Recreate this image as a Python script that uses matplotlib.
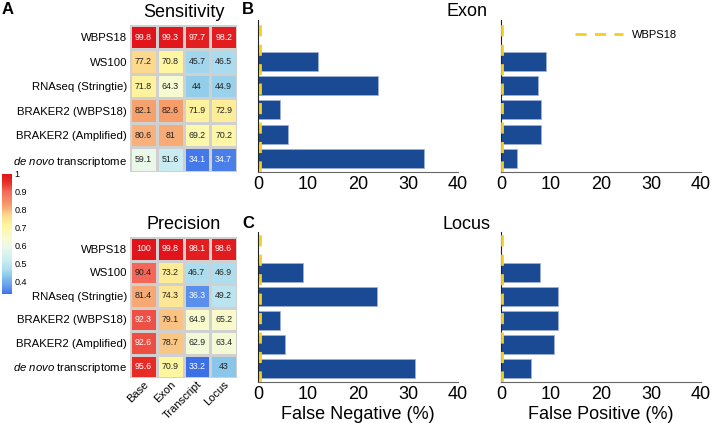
import matplotlib
matplotlib.use("Agg")
import matplotlib.pyplot as plt
import numpy as np
from matplotlib.colors import LinearSegmentedColormap, Normalize

plt.rcParams['font.family'] = ['Liberation Sans', 'DejaVu Sans']
plt.rcParams['mathtext.fontset'] = 'custom'
plt.rcParams['mathtext.rm'] = 'Liberation Sans'
plt.rcParams['mathtext.it'] = 'Liberation Sans:italic'

# ---- data ----
row_labels = ["WBPS18", "WS100", "RNAseq (Stringtie)", "BRAKER2 (WBPS18)",
              "BRAKER2 (Amplified)", r"$\it{de\ novo}$ transcriptome"]
levels = ["Base", "Exon", "Transcript", "Locus"]

sensitivity = [[99.8, 99.3, 97.7, 98.2],
               [77.2, 70.8, 45.7, 46.5],
               [71.8, 64.3, 44, 44.9],
               [82.1, 82.6, 71.9, 72.9],
               [80.6, 81, 69.2, 70.2],
               [59.1, 51.6, 34.1, 34.7]]
precision = [[100, 99.8, 98.1, 98.6],
             [90.4, 73.2, 46.7, 46.9],
             [81.4, 74.3, 36.3, 49.2],
             [92.3, 79.1, 64.9, 65.2],
             [92.6, 78.7, 62.9, 63.4],
             [95.6, 70.9, 33.2, 43]]

# false negative / false positive (%), first entry = WBPS18 reference
fn_exon = [0.4, 11.9, 24.0, 4.4, 5.9, 33.1]
fp_exon = [0.2, 8.9, 7.3, 7.9, 7.9, 3.1]
fn_locus = [0.4, 9.0, 23.7, 4.4, 5.4, 31.3]
fp_locus = [0.2, 7.7, 11.3, 11.3, 10.6, 6.0]

cb_ticks = [0.4, 0.5, 0.6, 0.7, 0.8, 0.9, 1]

# ---- colours ----
vmin, vmax = 0.332, 1.0
anchor_vals = [0.332, 0.363, 0.44, 0.465, 0.516, 0.591, 0.643, 0.708,
               0.772, 0.806, 0.826, 0.904, 0.95, 1.0]
anchor_cols = ["#3d6fe6", "#5b92ec", "#92cdea", "#acdcee", "#c9ecf2",
               "#eaf8ea", "#f7fbd2", "#fef7a0", "#fcd98c", "#f8b07c",
               "#f69e6a", "#f2695a", "#e8302a", "#e0141a"]
pos = [(v - vmin) / (vmax - vmin) for v in anchor_vals]
cmap = LinearSegmentedColormap.from_list("heat", list(zip(pos, anchor_cols)))
norm = Normalize(vmin, vmax)
bar_color = "#1b4a94"
ref_color = "#f3d01f"

W, H = 712, 423
fig = plt.figure(figsize=(W / 100, H / 100), dpi=100)


def fig_axes(x0, y0, x1, y1):
    return fig.add_axes([x0 / W, 1 - y1 / H, (x1 - x0) / W, (y1 - y0) / H])


def heatmap(ax, data, title, show_x):
    arr = np.array(data) / 100.0
    ax.pcolormesh(arr, cmap=cmap, norm=norm, edgecolors="#d0d0d0", linewidth=1)
    ax.set_xlim(0, 4)
    ax.set_ylim(6, 0)
    for i in range(arr.shape[0]):
        for j in range(arr.shape[1]):
            v = data[i][j]
            col = "white" if (v > 91 or v < 40) else "#222222"
            ax.text(j + 0.5, i + 0.5, "{:g}".format(v), ha="center", va="center",
                    fontsize=6.3, color=col)
    ax.set_yticks(np.arange(6) + 0.5)
    ax.set_yticklabels(row_labels, fontsize=8.2)
    ax.tick_params(length=0, pad=2)
    if show_x:
        ax.set_xticks(np.arange(4) + 0.5)
        ax.set_xticklabels(levels, rotation=45, ha="right", va="top",
                           rotation_mode="anchor", fontsize=8)
        ax.tick_params(axis="x", pad=1)
    else:
        ax.set_xticks([])
    for s in ax.spines.values():
        s.set_visible(False)
    ax.set_title(title, fontsize=13, pad=6)


ax_s = fig_axes(130, 25, 237, 172)
heatmap(ax_s, sensitivity, "Sensitivity", False)
ax_p = fig_axes(130, 237, 237, 378)
heatmap(ax_p, precision, "Precision", True)

# colour bar
cax = fig_axes(2, 174, 12, 294)
sm = plt.cm.ScalarMappable(norm=norm, cmap=cmap)
cb = fig.colorbar(sm, cax=cax)
cb.outline.set_visible(False)
cb.set_ticks(cb_ticks)
cb.set_ticklabels(["{:g}".format(t) for t in cb_ticks])
cb.ax.tick_params(length=0, labelsize=6.5, pad=2)


def bars(ax, vals, xlabel=None):
    y = np.arange(1, 6)
    ax.barh(y, vals[1:], height=0.78, color=bar_color, edgecolor="#9fb3d6",
            linewidth=0.5, zorder=2)
    ax.axvline(vals[0], color=ref_color, lw=2, dashes=(4, 3), zorder=3,
               label="WBPS18")
    ax.set_xlim(0, 40)
    ax.set_ylim(5.55, -0.7)
    ax.set_xticks([0, 10, 20, 30, 40])
    ax.set_yticks([])
    ax.tick_params(axis="x", length=0, labelsize=13, pad=3)
    ax.spines["top"].set_visible(False)
    ax.spines["right"].set_visible(False)
    ax.spines["left"].set_color("#222222")
    ax.spines["left"].set_linewidth(0.8)
    ax.spines["bottom"].set_color("#666666")
    ax.spines["bottom"].set_linewidth(0.8)
    if xlabel:
        ax.set_xlabel(xlabel, fontsize=13, labelpad=2)


ax_b1 = fig_axes(258, 20, 458, 172)
bars(ax_b1, fn_exon)
ax_b2 = fig_axes(501, 20, 701, 172)
bars(ax_b2, fp_exon)
ax_b2.legend(loc="upper left", bbox_to_anchor=(0.32, 1.0), frameon=False,
             fontsize=8, handlelength=4.3, handletextpad=0.8)
ax_c1 = fig_axes(258, 232, 458, 382)
bars(ax_c1, fn_locus, "False Negative (%)")
ax_c2 = fig_axes(501, 232, 701, 382)
bars(ax_c2, fp_locus, "False Positive (%)")

fig.text(467 / W, 1 - 11 / H, "Exon", ha="center", va="center", fontsize=13)
fig.text(467 / W, 1 - 224 / H, "Locus", ha="center", va="center", fontsize=13)

fig.text(2 / W, 1 - 9 / H, "A", ha="left", va="center", fontsize=12, fontweight="bold")
fig.text(242 / W, 1 - 9 / H, "B", ha="left", va="center", fontsize=12, fontweight="bold")
fig.text(242 / W, 1 - 223 / H, "C", ha="left", va="center", fontsize=12, fontweight="bold")

fig.savefig("out.png", dpi=100)
